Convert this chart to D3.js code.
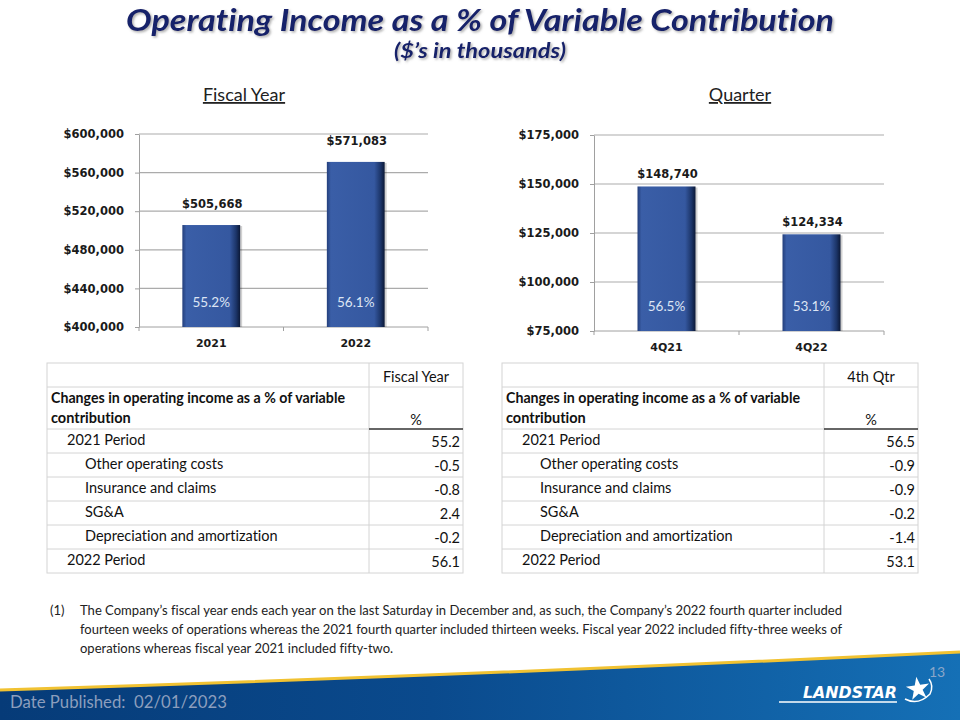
<!DOCTYPE html>
<html>
<head>
<meta charset="utf-8">
<script src="https://cdn.jsdelivr.net/npm/d3@7"></script>
<style>
  body { margin: 0; background: #fff; }
  svg { display: block; }
  svg text { font-variant-ligatures: none; font-feature-settings: "liga" 0, "clig" 0; white-space: pre; }
</style>
</head>
<body>
<div id="slide"></div>
<script>
// chart data
const fyCategories = ["2021", "2022"];
const fyValues = [505668, 571083];
const fyPercents = ["55.2%", "56.1%"];
const fyTicks = [400000, 440000, 480000, 520000, 560000, 600000];

const qtrCategories = ["4Q21", "4Q22"];
const qtrValues = [148740, 124334];
const qtrPercents = ["56.5%", "53.1%"];
const qtrTicks = [75000, 100000, 125000, 150000, 175000];

// table data
const rowLabels = ["2021 Period", "Other operating costs", "Insurance and claims", "SG&A",
    "Depreciation and amortization", "2022 Period"];
const rowLevels = [0, 1, 1, 1, 1, 0];
const fyChanges = ["55.2", "-0.5", "-0.8", "2.4", "-0.2", "56.1"];
const qtrChanges = ["56.5", "-0.9", "-0.9", "-0.2", "-1.4", "53.1"];

const footnote = [
    "The Company\u2019s fiscal year ends each year on the last Saturday in December and, as such, the Company\u2019s 2022 fourth quarter included",
    "fourteen weeks of operations whereas the 2021 fourth quarter included thirteen weeks. Fiscal year 2022 included fifty-three weeks of",
    "operations whereas fiscal year 2021 included fifty-two."
];

const W = 960, H = 720;
const navy = "#16206b";
const body = "Lato, 'Liberation Sans', sans-serif";
const verd = "'DejaVu Sans', Verdana, sans-serif";

let svg = d3.select("#slide").append("svg")
    .attr("width", W)
    .attr("height", H);

let defs = svg.append("defs");

// bar bevel gradient
let bg = defs.append("linearGradient").attr("id", "barFill")
    .attr("x1", "0%").attr("x2", "100%").attr("y1", "0%").attr("y2", "0%");
[["0%", "#243f7c"], ["7%", "#3a5ea7"], ["82%", "#3558a0"], ["93%", "#1c3569"], ["100%", "#0b1836"]]
    .forEach(s => bg.append("stop").attr("offset", s[0]).attr("stop-color", s[1]));

// footer gradient
let fg = defs.append("linearGradient").attr("id", "footFill")
    .attr("x1", "0%").attr("x2", "100%");
[["0%", "#063b78"], ["45%", "#0a4a8d"], ["100%", "#1570b6"]]
    .forEach(s => fg.append("stop").attr("offset", s[0]).attr("stop-color", s[1]));

// title shadow
defs.append("filter").attr("id", "shadow")
    .attr("x", "-5%").attr("y", "-20%").attr("width", "110%").attr("height", "150%")
    .append("feDropShadow")
    .attr("dx", 1.5).attr("dy", 1.5).attr("stdDeviation", 0.8)
    .attr("flood-color", "#777").attr("flood-opacity", 0.6);

function titleText(txt, y, size, len) {
    svg.append("text")
        .attr("x", 480).attr("y", y)
        .attr("text-anchor", "middle")
        .attr("textLength", len).attr("lengthAdjust", "spacingAndGlyphs")
        .attr("filter", "url(#shadow)")
        .style("font-family", body).style("font-weight", "bold").style("font-style", "italic")
        .style("font-size", size + "px").style("fill", navy)
        .text(txt);
}
titleText("Operating Income as a % of Variable Contribution", 31, 31, 708);
titleText("($\u2019s in thousands)", 58, 20, 172);

// section headings
[["Fiscal Year", 244], ["Quarter", 740]].forEach(h => {
    svg.append("text")
        .attr("x", h[1]).attr("y", 101)
        .attr("text-anchor", "middle")
        .style("font-family", body).style("font-size", "18px").style("fill", "#222")
        .style("text-decoration", "underline")
        .text(h[0]);
});

// one bar chart
function barChart(cfg) {
    let g = svg.append("g");

    let y = d3.scaleLinear()
        .domain(d3.extent(cfg.ticks))
        .range([cfg.bottom, cfg.top]);

    let x = d3.scaleBand()
        .domain(cfg.categories)
        .range([cfg.left, cfg.right])
        .paddingInner(0.6)
        .paddingOuter(0.3);

    // gridlines
    g.selectAll(".grid").data(cfg.ticks.slice(1))
        .enter().append("line")
        .attr("x1", cfg.left).attr("x2", cfg.right)
        .attr("y1", d => y(d)).attr("y2", d => y(d))
        .attr("stroke", "#ababab").attr("stroke-width", 1.2);

    // y axis
    let yAxis = g.append("g")
        .attr("transform", `translate(${cfg.left},0)`)
        .call(d3.axisLeft(y).tickValues(cfg.ticks).tickSize(4).tickSizeOuter(0)
            .tickFormat(d => "$" + d3.format(",")(d)));
    yAxis.select(".domain").attr("stroke", "#a0a0a0");
    yAxis.selectAll(".tick line").attr("stroke", "#a0a0a0");
    yAxis.selectAll(".tick text")
        .attr("x", -15)
        .style("font-family", verd).style("font-weight", "bold")
        .style("font-size", "11.5px").style("fill", "#1a1a1a");

    // x axis line with separators
    g.append("line")
        .attr("x1", cfg.left).attr("x2", cfg.right)
        .attr("y1", cfg.bottom).attr("y2", cfg.bottom)
        .attr("stroke", "#a0a0a0");
    let seps = [cfg.left, (x(cfg.categories[0]) + x(cfg.categories[1]) + x.bandwidth()) / 2, cfg.right];
    g.selectAll(".sep").data(seps)
        .enter().append("line")
        .attr("x1", d => d).attr("x2", d => d)
        .attr("y1", cfg.bottom).attr("y2", cfg.bottom + 4)
        .attr("stroke", "#a0a0a0");

    g.selectAll(".cat").data(cfg.categories)
        .enter().append("text")
        .attr("x", d => x(d) + x.bandwidth() / 2)
        .attr("y", cfg.bottom + 20)
        .attr("text-anchor", "middle")
        .style("font-family", verd).style("font-weight", "bold")
        .style("font-size", "11px").style("fill", "#1a1a1a")
        .text(d => d);

    let data = cfg.categories.map((c, i) => ({ c: c, v: cfg.values[i], p: cfg.percents[i] }));

    // shadow then bar
    g.selectAll(".shadow").data(data)
        .enter().append("rect")
        .attr("x", d => x(d.c) + 2)
        .attr("y", d => y(d.v) + 1)
        .attr("width", x.bandwidth())
        .attr("height", d => cfg.bottom - y(d.v) - 1)
        .attr("fill", "#000").attr("opacity", 0.18);

    g.selectAll(".bar").data(data)
        .enter().append("rect")
        .attr("x", d => x(d.c))
        .attr("y", d => y(d.v))
        .attr("width", x.bandwidth())
        .attr("height", d => cfg.bottom - y(d.v))
        .attr("fill", "url(#barFill)");

    // value labels
    g.selectAll(".val").data(data)
        .enter().append("text")
        .attr("x", d => x(d.c) + x.bandwidth() / 2 + 1)
        .attr("y", d => y(d.v) - cfg.labelGap)
        .attr("text-anchor", "middle")
        .style("font-family", verd).style("font-weight", "bold")
        .style("font-size", "11.5px").style("fill", "#1a1a1a")
        .text(d => "$" + d3.format(",")(d.v));

    // percent labels inside bars
    g.selectAll(".pct").data(data)
        .enter().append("text")
        .attr("x", d => x(d.c) + x.bandwidth() / 2)
        .attr("y", cfg.bottom - 20)
        .attr("text-anchor", "middle")
        .style("font-family", body).style("font-size", "13.5px").style("fill", "#dde5f4")
        .text(d => d.p);
}

barChart({
    categories: fyCategories, values: fyValues, percents: fyPercents, ticks: fyTicks,
    left: 139, right: 428, top: 134, bottom: 327, labelGap: 17
});
barChart({
    categories: qtrCategories, values: qtrValues, percents: qtrPercents, ticks: qtrTicks,
    left: 594, right: 884, top: 135, bottom: 331, labelGap: 8
});

// tables
function changeTable(cfg) {
    let g = svg.append("g");
    let grid = "#d4d4d4";
    let rows = d3.scaleBand()
        .domain(d3.range(rowLabels.length))
        .range([429, 573]);

    // outer box and row rules
    g.append("rect")
        .attr("x", cfg.left).attr("y", 363)
        .attr("width", cfg.right - cfg.left).attr("height", 573 - 363)
        .attr("fill", "none").attr("stroke", grid);
    let rules = [387].concat(d3.range(1, rowLabels.length).map(i => rows(i)));
    g.selectAll(".rule").data(rules)
        .enter().append("line")
        .attr("x1", cfg.left).attr("x2", cfg.right)
        .attr("y1", d => d).attr("y2", d => d)
        .attr("stroke", grid);
    g.append("line")
        .attr("x1", cfg.left).attr("x2", cfg.divider)
        .attr("y1", 429).attr("y2", 429).attr("stroke", grid);
    g.append("line")
        .attr("x1", cfg.divider).attr("x2", cfg.divider)
        .attr("y1", 363).attr("y2", 573).attr("stroke", grid);
    g.append("line")
        .attr("x1", cfg.divider).attr("x2", cfg.right)
        .attr("y1", 429).attr("y2", 429)
        .attr("stroke", "#333").attr("stroke-width", 1.6);

    let mid = (cfg.divider + cfg.right) / 2;
    g.append("text")
        .attr("x", mid).attr("y", 382)
        .attr("text-anchor", "middle")
        .style("font-family", body).style("font-size", "14.5px").style("fill", "#111")
        .text(cfg.head);
    g.append("text")
        .attr("x", mid).attr("y", 425)
        .attr("text-anchor", "middle")
        .style("font-family", body).style("font-size", "14.5px").style("fill", "#111")
        .text("%");

    ["Changes in operating income as a % of variable", "contribution"].forEach((t, i) => {
        let tx = g.append("text")
            .attr("x", cfg.left + 4).attr("y", 403 + i * 20)
            .style("font-family", body).style("font-weight", "bold")
            .style("font-size", "14.5px").style("fill", "#111")
            .text(t);
        if (i === 0) tx.attr("textLength", 294).attr("lengthAdjust", "spacingAndGlyphs");
    });

    g.selectAll(".lab").data(rowLabels)
        .enter().append("text")
        .attr("x", (d, i) => cfg.left + (rowLevels[i] ? 38 : 20))
        .attr("y", (d, i) => rows(i) + 16)
        .style("font-family", body).style("font-size", "14.5px").style("fill", "#111")
        .text(d => d);

    g.selectAll(".num").data(cfg.values)
        .enter().append("text")
        .attr("x", cfg.right - 3)
        .attr("y", (d, i) => rows(i) + 18)
        .attr("text-anchor", "end")
        .style("font-family", body).style("font-size", "14.5px").style("fill", "#111")
        .text(d => d);
}

changeTable({ left: 47, right: 463, divider: 369, head: "Fiscal Year", values: fyChanges });
changeTable({ left: 502, right: 918, divider: 824, head: "4th Qtr", values: qtrChanges });

// footnote
svg.append("text")
    .attr("x", 50).attr("y", 615)
    .style("font-family", body).style("font-size", "13px").style("fill", "#222")
    .text("(1)");
footnote.forEach((t, i) => {
    let tx = svg.append("text")
        .attr("x", 80).attr("y", 615 + i * 19)
        .style("font-family", body).style("font-size", "13px").style("fill", "#222")
        .text(t);
    if (i < 2) tx.attr("textLength", 762).attr("lengthAdjust", "spacingAndGlyphs");
});

// footer band
svg.append("path")
    .attr("d", "M0,690 Q480,675 960,652 L960,720 L0,720 Z")
    .attr("fill", "url(#footFill)");
svg.append("path")
    .attr("d", "M0,690 Q480,675 960,652")
    .attr("fill", "none").attr("stroke", "#f1c232").attr("stroke-width", 3);

svg.append("text")
    .attr("x", 10).attr("y", 708)
    .attr("textLength", 217).attr("lengthAdjust", "spacingAndGlyphs")
    .style("font-family", body).style("font-size", "18px").style("fill", "#8c9ebd")
    .text("Date Published:  02/01/2023");

svg.append("text")
    .attr("x", 937).attr("y", 677)
    .attr("text-anchor", "middle")
    .style("font-family", body).style("font-size", "14px").style("fill", "#8aa6c8")
    .text("13");

// logo
svg.append("text")
    .attr("x", 803).attr("y", 698)
    .attr("textLength", 94).attr("lengthAdjust", "spacingAndGlyphs")
    .style("font-family", verd).style("font-weight", "bold").style("font-style", "italic")
    .style("font-size", "15px").style("fill", "#fff")
    .text("LANDSTAR");
svg.append("line")
    .attr("x1", 779).attr("x2", 897).attr("y1", 702).attr("y2", 702)
    .attr("stroke", "#fff").attr("stroke-width", 1.5);
svg.append("path")
    .attr("d", d3.symbol(d3.symbolStar).size(170)())
    .attr("transform", "translate(918,689) rotate(-8)")
    .attr("fill", "#fff");
svg.append("path")
    .attr("d", "M905,699 Q918,706 930,694 Q934,686 929,679")
    .attr("fill", "none").attr("stroke", "#fff").attr("stroke-width", 1.5);
</script>
</body>
</html>
